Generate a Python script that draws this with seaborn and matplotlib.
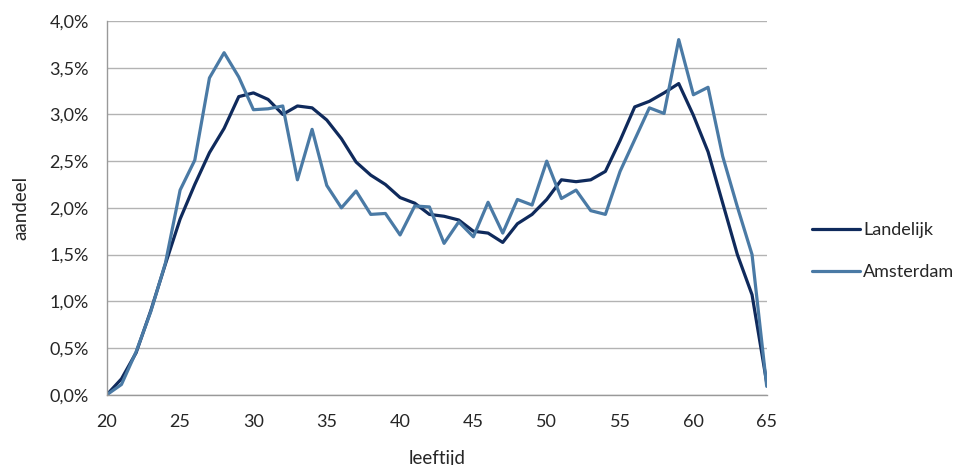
import pandas as pd
import matplotlib
matplotlib.use('Agg')
import matplotlib.pyplot as plt
import seaborn as sns

leeftijd = list(range(20, 66))

# aandeel in procenten
landelijk = [0.0, 0.17, 0.45, 0.9, 1.4, 1.88, 2.25, 2.59, 2.85, 3.19, 3.23, 3.16, 3.0, 3.09, 3.07,
             2.94, 2.74, 2.49, 2.35, 2.25, 2.11, 2.05, 1.93, 1.91, 1.87, 1.75, 1.73, 1.63, 1.83,
             1.93, 2.09, 2.3, 2.28, 2.3, 2.39, 2.72, 3.08, 3.14, 3.23, 3.33, 2.99, 2.6, 2.05,
             1.5, 1.07, 0.13]
amsterdam = [0.0, 0.11, 0.46, 0.89, 1.41, 2.19, 2.51, 3.39, 3.66, 3.4, 3.05, 3.06, 3.09, 2.3, 2.84,
             2.24, 2.0, 2.18, 1.93, 1.94, 1.71, 2.02, 2.01, 1.62, 1.85, 1.69, 2.06, 1.73, 2.09,
             2.03, 2.5, 2.1, 2.19, 1.97, 1.93, 2.39, 2.73, 3.07, 3.01, 3.8, 3.21, 3.29, 2.55,
             2.01, 1.5, 0.09]

df = pd.DataFrame({
    'leeftijd': leeftijd * 2,
    'aandeel': landelijk + amsterdam,
    'reeks': ['Landelijk'] * len(leeftijd) + ['Amsterdam'] * len(leeftijd),
})

sns.set_style('white')
plt.rcParams['font.family'] = ['Lato', 'DejaVu Sans']

fig, ax = plt.subplots(figsize=(9.62, 4.65), dpi=100)
fig.subplots_adjust(left=0.111, right=0.797, top=0.955, bottom=0.151)

sns.lineplot(data=df, x='leeftijd', y='aandeel', hue='reeks',
             palette={'Landelijk': '#0f2a5c', 'Amsterdam': '#4a7aa5'},
             linewidth=2.3, ax=ax, legend=True)

ax.set_xlim(20, 65)
ax.set_ylim(0, 4.0)
ax.set_xticks(range(20, 66, 5))
ax.set_yticks([i * 0.5 for i in range(9)])
ax.set_yticklabels([f'{i * 0.5:.1f}%'.replace('.', ',') for i in range(9)])
ax.grid(axis='y', color='#b3b3b3', linewidth=1)
ax.set_axisbelow(True)

for s in ['top', 'right']:
    ax.spines[s].set_visible(False)
for s in ['left', 'bottom']:
    ax.spines[s].set_color('#999999')
    ax.spines[s].set_linewidth(1)

ax.tick_params(axis='x', direction='out', length=5, color='#999999', labelsize=13, pad=9)
ax.tick_params(axis='y', length=0, labelsize=13, pad=13)
ax.set_xlabel('leeftijd', fontsize=13.5, labelpad=14)
ax.set_ylabel('aandeel', fontsize=13.5, labelpad=14)

ax.legend(title=None, frameon=False, loc='center left', bbox_to_anchor=(1.068, 0.384),
          borderaxespad=0, borderpad=0,
          fontsize=13, handlelength=2.7, handletextpad=0.15, labelspacing=1.45)

fig.savefig('out.png', dpi=100)
